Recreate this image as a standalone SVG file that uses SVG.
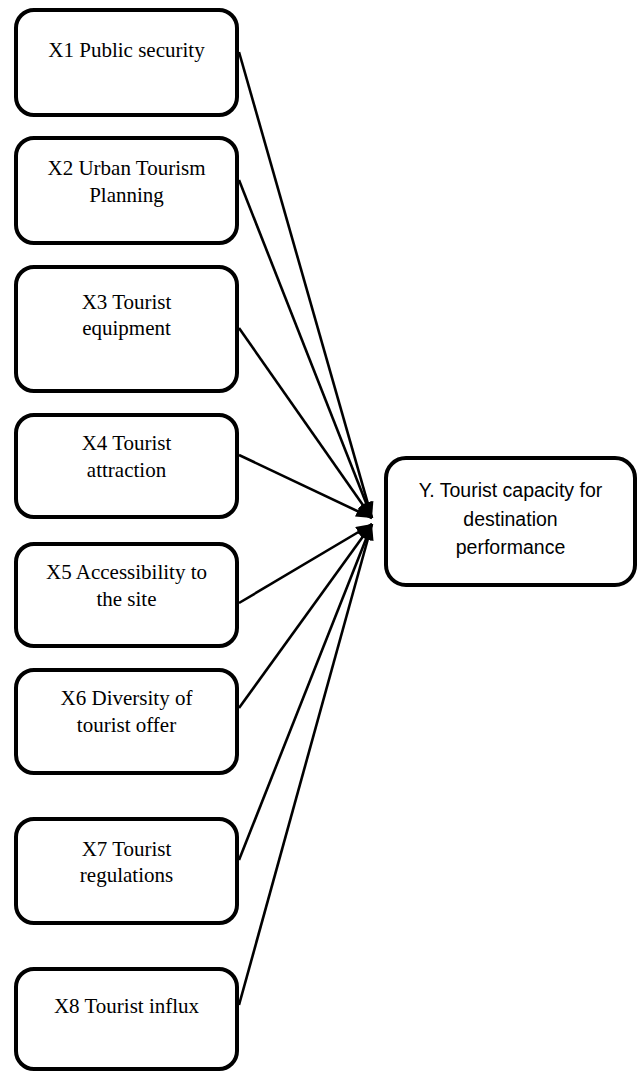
<svg xmlns="http://www.w3.org/2000/svg" width="640" height="1072" viewBox="0 0 640 1072">
<style>
.box{fill:#fff;stroke:#000;stroke-width:4}
.t{font-family:"Liberation Serif","Times New Roman",serif;font-size:21px;fill:#000;text-anchor:middle}
.ty{font-family:"Liberation Sans",Arial,sans-serif;font-size:19.5px;fill:#000;text-anchor:middle}
.ln{stroke:#000;stroke-width:2.6;fill:none;marker-end:url(#ah)}
</style>
<defs>
<marker id="ah" markerUnits="userSpaceOnUse" markerWidth="16" markerHeight="12" refX="16" refY="6" orient="auto">
<path d="M0,0 L16,6 L0,12 z" fill="#000"/>
</marker>
</defs>
<rect width="640" height="1072" fill="#fff"/>
<g id="connectors">
<line class="ln" x1="239" y1="52" x2="372" y2="518"/>
<line class="ln" x1="239" y1="180" x2="372" y2="518"/>
<line class="ln" x1="239" y1="328" x2="372" y2="518"/>
<line class="ln" x1="239" y1="455" x2="372" y2="518"/>
<line class="ln" x1="239" y1="603" x2="372" y2="524"/>
<line class="ln" x1="239" y1="708" x2="372" y2="524"/>
<line class="ln" x1="239" y1="860" x2="372" y2="524"/>
<line class="ln" x1="239" y1="1005" x2="372" y2="524"/>
</g>
<g id="x1"><rect class="box" x="16" y="10" width="221" height="105" rx="18"/><text class="t" x="126.5" y="57">X1 Public security</text></g>
<g id="x2"><rect class="box" x="16" y="138" width="221" height="105" rx="18"/><text class="t" x="126.5" y="175">X2 Urban Tourism</text><text class="t" x="126.5" y="202">Planning</text></g>
<g id="x3"><rect class="box" x="16" y="267" width="221" height="124" rx="18"/><text class="t" x="126.5" y="309">X3 Tourist</text><text class="t" x="126.5" y="335">equipment</text></g>
<g id="x4"><rect class="box" x="16" y="415" width="221" height="102" rx="18"/><text class="t" x="126.5" y="450">X4 Tourist</text><text class="t" x="126.5" y="477">attraction</text></g>
<g id="x5"><rect class="box" x="16" y="544" width="221" height="102" rx="18"/><text class="t" x="126.5" y="579">X5 Accessibility to</text><text class="t" x="126.5" y="606">the site</text></g>
<g id="x6"><rect class="box" x="16" y="670" width="221" height="103" rx="18"/><text class="t" x="126.5" y="705">X6 Diversity of</text><text class="t" x="126.5" y="732">tourist offer</text></g>
<g id="x7"><rect class="box" x="16" y="819" width="221" height="104" rx="18"/><text class="t" x="126.5" y="856">X7 Tourist</text><text class="t" x="126.5" y="882">regulations</text></g>
<g id="x8"><rect class="box" x="16" y="969" width="221" height="100" rx="18"/><text class="t" x="126.5" y="1013">X8 Tourist influx</text></g>
<g id="y"><rect class="box" x="386" y="458" width="249" height="127" rx="20"/><text class="ty" x="510.5" y="497">Y. Tourist capacity for</text><text class="ty" x="510.5" y="526">destination</text><text class="ty" x="510.5" y="554">performance</text></g>
</svg>
